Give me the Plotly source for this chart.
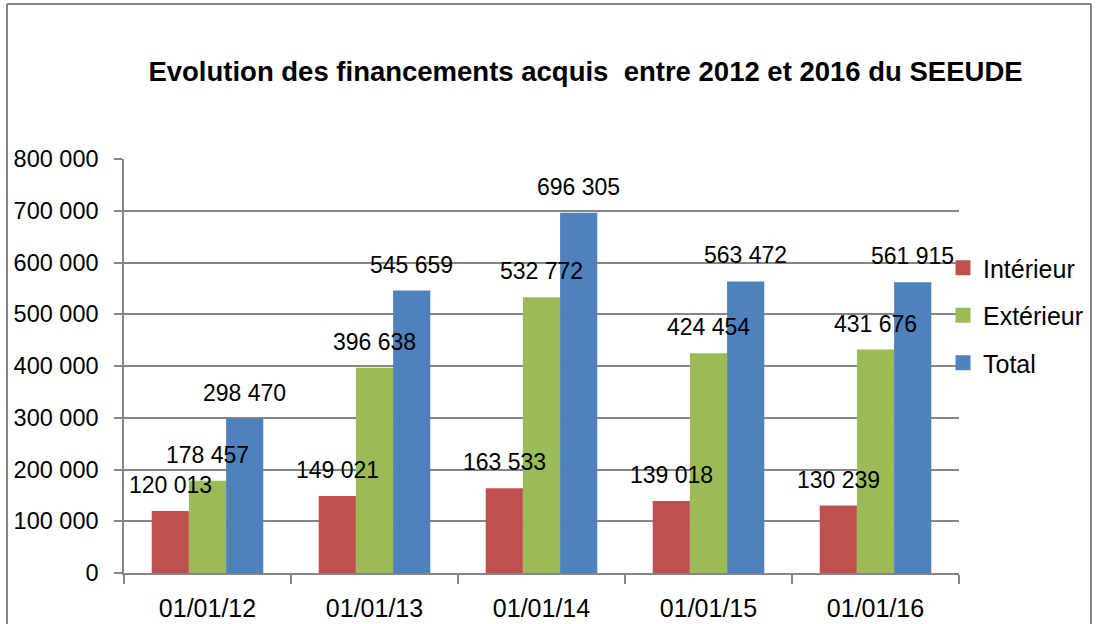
import plotly.graph_objects as go

categories = ["01/01/12", "01/01/13", "01/01/14", "01/01/15", "01/01/16"]
interieur = [120013, 149021, 163533, 139018, 130239]
exterieur = [178457, 396638, 532772, 424454, 431676]
total = [298470, 545659, 696305, 563472, 561915]
series_names = ["Intérieur", "Extérieur", "Total"]
series_colors = ["#C0504D", "#9BBB59", "#4F81BD"]
y_tickvals = [0, 100000, 200000, 300000, 400000, 500000, 600000, 700000, 800000]
y_ticktext = ["0", "100 000", "200 000", "300 000", "400 000", "500 000", "600 000", "700 000", "800 000"]
title_text = "Evolution des financements acquis \u00a0entre 2012 et 2016 du SEEUDE"

FONT = "Liberation Sans"
GRAY = "#868686"
BARGAP = 0.332

W, H = 1097, 624
L, R, T, B = 124, 138, 159, 51

fig = go.Figure()
all_series = [interieur, exterieur, total]
for name, vals, col in zip(series_names, all_series, series_colors):
    fig.add_trace(go.Bar(x=categories, y=vals, name=name, marker=dict(color=col, line=dict(width=0)),
                         showlegend=False))
    # legend proxy with larger square marker
    fig.add_trace(go.Scatter(x=[None], y=[None], mode="markers", name=name, legendgroup=name,
                             marker=dict(symbol="square", size=15, color=col)))

bw = (1 - BARGAP) / 3
annotations = []
for j, vals in enumerate(all_series):
    for i, v in enumerate(vals):
        annotations.append(dict(
            x=i + (j - 1) * bw, y=v, xref="x", yref="y",
            text=f"{v:,}".replace(",", " "), showarrow=False,
            yanchor="bottom", yshift=11,
            font=dict(family=FONT, size=23, color="black")))

pw = W - L - R
ph = H - T - B
def px(x):
    return (x - L) / pw
def py(y):
    return (H - B - y) / ph

shapes = [
    dict(type="line", xref="paper", yref="paper", x0=px(7), x1=px(7), y0=py(660), y1=py(4),
         line=dict(color=GRAY, width=2)),
    dict(type="line", xref="paper", yref="paper", x0=px(7), x1=px(1091), y0=py(4), y1=py(4),
         line=dict(color=GRAY, width=2)),
    dict(type="line", xref="paper", yref="paper", x0=px(1091), x1=px(1091), y0=py(4), y1=py(660),
         line=dict(color=GRAY, width=2)),
]

fig.update_layout(
    width=W, height=H,
    margin=dict(l=L, r=R, t=T, b=B, autoexpand=False),
    paper_bgcolor="white", plot_bgcolor="white",
    barmode="group", bargap=BARGAP, bargroupgap=0,
    title=dict(text=f"<b>{title_text}</b>", x=px(585.5), xanchor="center", xref="paper",
               y=1 - 71 / H, yanchor="middle",
               font=dict(family=FONT, size=27.5, color="black")),
    legend=dict(x=px(943), xanchor="left", y=py(245), yanchor="top",
                font=dict(family=FONT, size=25, color="black"),
                bgcolor="rgba(0,0,0,0)", tracegroupgap=12, itemwidth=30),
    annotations=annotations,
    shapes=shapes,
    font=dict(family=FONT, color="black"),
)

fig.update_xaxes(type="category", tickson="boundaries", ticks="outside", ticklen=9,
                 tickcolor=GRAY, tickwidth=1.5, showline=True, linecolor=GRAY, linewidth=1.5,
                 showgrid=False, ticklabelstandoff=12,
                 tickfont=dict(family=FONT, size=25, color="black"), range=[-0.5, 4.5])
fig.update_yaxes(range=[0, 800000], tickvals=y_tickvals, ticktext=y_ticktext,
                 ticks="outside", ticklen=8, tickcolor=GRAY, tickwidth=1.5,
                 showline=True, linecolor=GRAY, linewidth=1.5,
                 showgrid=True, gridcolor=GRAY, gridwidth=1.5, zeroline=False,
                 ticklabelstandoff=11,
                 tickfont=dict(family=FONT, size=23.5, color="black"))

fig.write_html("out.html", config={"displayModeBar": False},
               post_script="document.body.style.margin='0px';")
